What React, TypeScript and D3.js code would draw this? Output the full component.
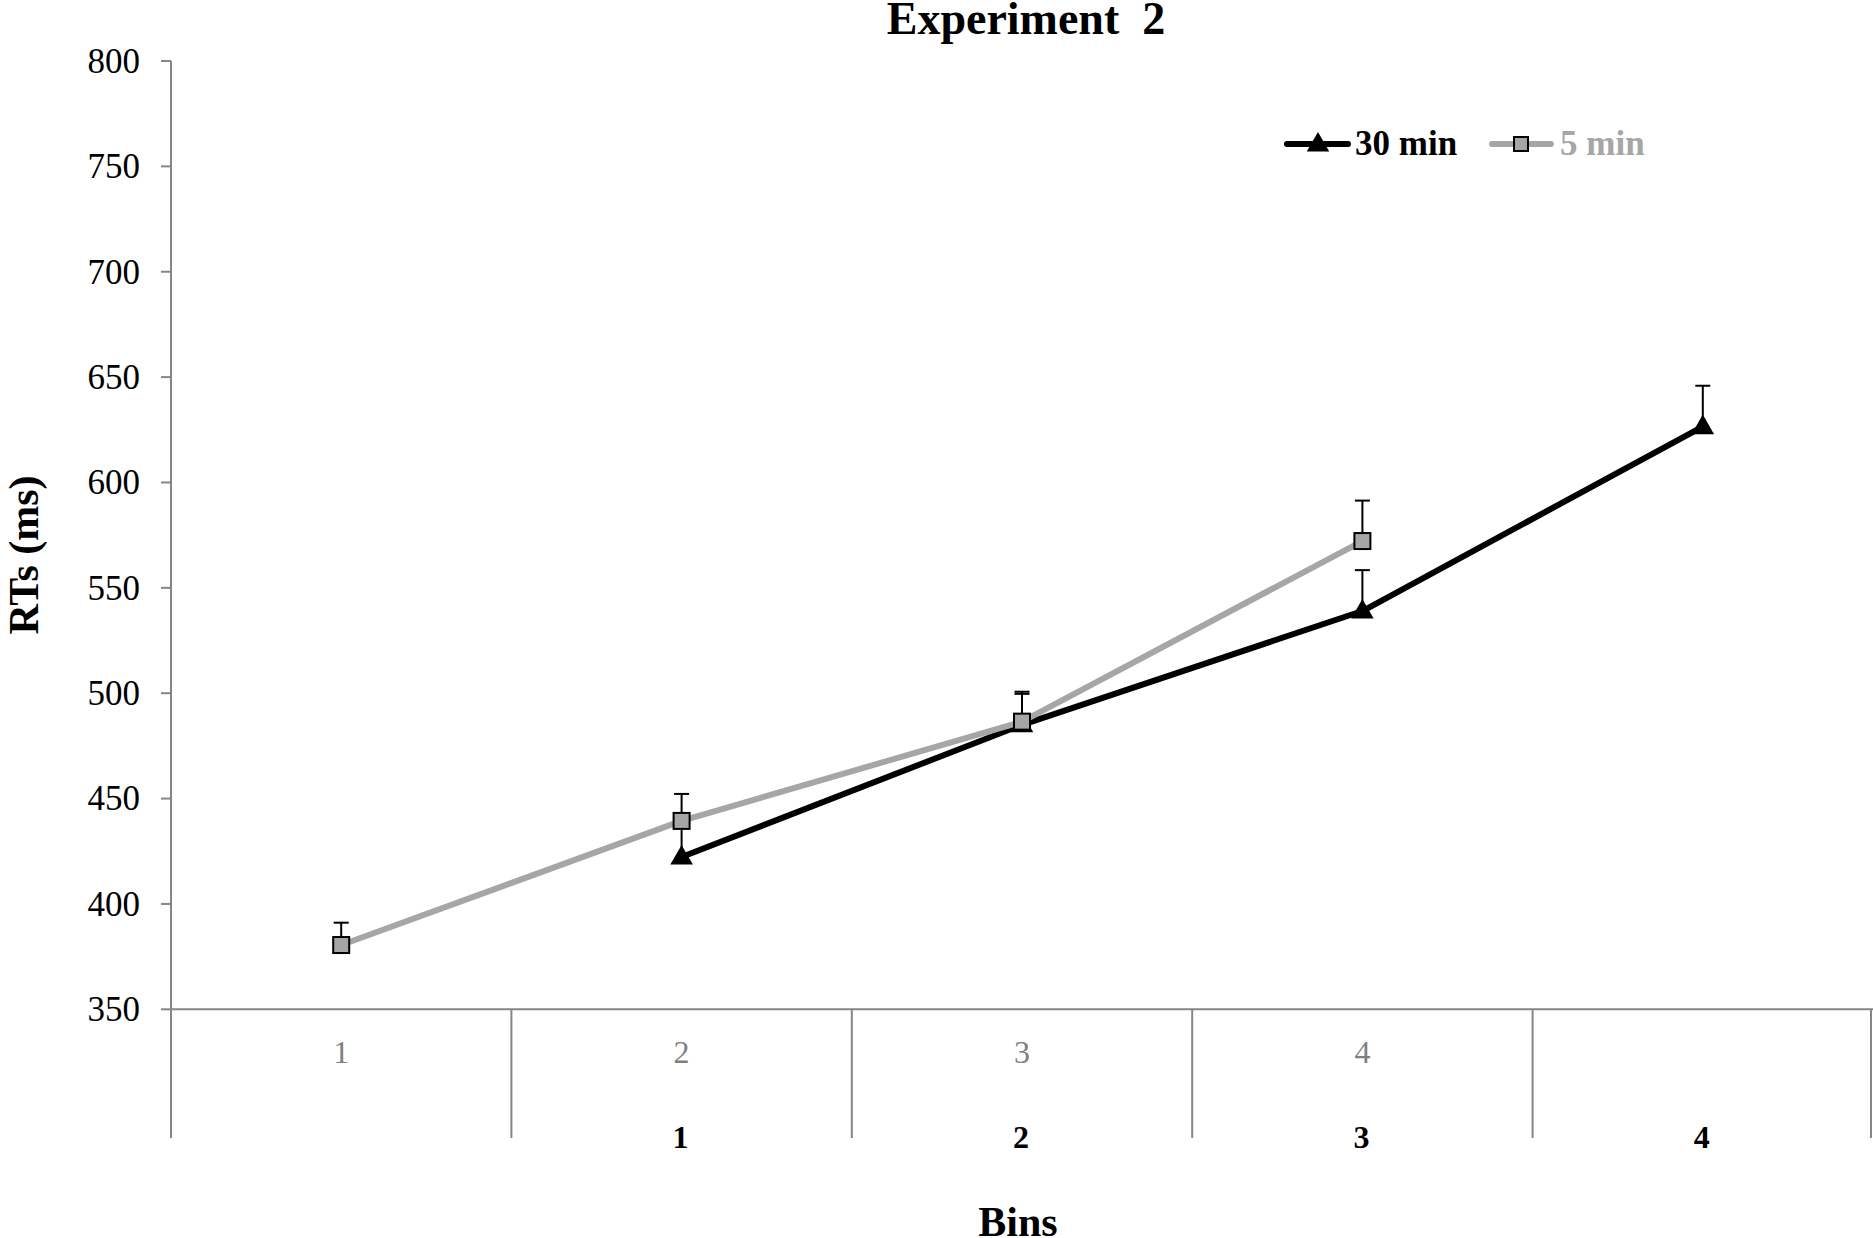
import * as d3 from 'd3';
import { useRef, useEffect } from 'react';

// x categories: two label rows (gray = 5 min bins, black = 30 min bins)
const slots = ['a', 'b', 'c', 'd', 'e'];
const topLabels = ['1', '2', '3', '4', ''];
const bottomLabels = ['', '1', '2', '3', '4'];

const yTicks = [350, 400, 450, 500, 550, 600, 650, 700, 750, 800];

// 30 min series sits on slots b..e
const slots30 = ['b', 'c', 'd', 'e'];
const rt30 = [422.3, 485, 539, 626.5];
const err30 = [14, 14.7, 19.4, 19.4];

// 5 min series sits on slots a..d
const slots5 = ['a', 'b', 'c', 'd'];
const rt5 = [380.5, 439.4, 486.5, 572.2];
const err5 = [10.6, 12.8, 14.2, 19.2];

const W = 1873;
const H = 1238;
const FONT = '"Liberation Serif", "Times New Roman", serif';
const AXIS = '#868686';
const GRAY = '#a6a6a6';

interface Pt {
  slot: string;
  v: number;
  e: number;
}

const Chart = () => {
  const ref = useRef<SVGSVGElement>(null);

  useEffect(() => {
    if (!ref.current) return;
    const svg = d3.select(ref.current);
    svg.selectAll('*').remove();

    const left = 171, right = 1873, top = 61, bottom = 1009.3, floor = 1138;

    const x = d3.scaleBand().domain(slots).range([left, right]).paddingInner(0).paddingOuter(0);
    const y = d3.scaleLinear().domain([350, 800]).range([bottom, top]);
    const cx = (s: string) => x(s)! + x.bandwidth() / 2;

    // title
    svg.append('text')
      .attr('x', 1026).attr('y', 34)
      .attr('text-anchor', 'middle')
      .attr('font-family', FONT).attr('font-weight', 'bold').attr('font-size', 46)
      .attr('xml:space', 'preserve')
      .text('Experiment  2');

    // y axis
    const yAxis = svg.append('g');
    yAxis.append('line')
      .attr('x1', left).attr('x2', left).attr('y1', top).attr('y2', floor)
      .attr('stroke', AXIS).attr('stroke-width', 2);
    yAxis.selectAll('.tick')
      .data(yTicks)
      .enter().append('line')
      .attr('x1', left - 10).attr('x2', left)
      .attr('y1', d => y(d)).attr('y2', d => y(d))
      .attr('stroke', AXIS).attr('stroke-width', 2);
    yAxis.selectAll('text')
      .data(yTicks)
      .enter().append('text')
      .attr('x', 140).attr('y', d => y(d))
      .attr('dy', '0.34em')
      .attr('text-anchor', 'end')
      .attr('font-family', FONT).attr('font-size', 35)
      .attr('fill', '#000')
      .text(d => d);

    svg.append('text')
      .attr('transform', 'translate(38,555) rotate(-90)')
      .attr('text-anchor', 'middle')
      .attr('font-family', FONT).attr('font-weight', 'bold').attr('font-size', 42)
      .text('RTs (ms)');

    // x axis with category dividers
    const xAxis = svg.append('g');
    xAxis.append('line')
      .attr('x1', left).attr('x2', right).attr('y1', bottom).attr('y2', bottom)
      .attr('stroke', AXIS).attr('stroke-width', 2);
    const edges = slots.map(s => x(s)!).slice(1).concat([right - 2]);
    xAxis.selectAll('.div')
      .data(edges)
      .enter().append('line')
      .attr('x1', d => d).attr('x2', d => d)
      .attr('y1', bottom).attr('y2', floor)
      .attr('stroke', AXIS).attr('stroke-width', 2);
    xAxis.selectAll('.top')
      .data(slots)
      .enter().append('text')
      .attr('x', d => cx(d)).attr('y', 1063)
      .attr('text-anchor', 'middle')
      .attr('font-family', FONT).attr('font-size', 32)
      .attr('fill', '#7f7f7f')
      .text((d, i) => topLabels[i]);
    xAxis.selectAll('.bottom')
      .data(slots)
      .enter().append('text')
      .attr('x', d => cx(d) - 1).attr('y', 1148)
      .attr('text-anchor', 'middle')
      .attr('font-family', FONT).attr('font-weight', 'bold').attr('font-size', 32)
      .attr('fill', '#000')
      .text((d, i) => bottomLabels[i]);

    svg.append('text')
      .attr('x', 1018).attr('y', 1236)
      .attr('text-anchor', 'middle')
      .attr('font-family', FONT).attr('font-weight', 'bold').attr('font-size', 42)
      .text('Bins');

    const data30: Pt[] = slots30.map((s, i) => ({ slot: s, v: rt30[i], e: err30[i] }));
    const data5: Pt[] = slots5.map((s, i) => ({ slot: s, v: rt5[i], e: err5[i] }));

    const line = d3.line<Pt>().x(d => cx(d.slot)).y(d => y(d.v));
    const tri = d3.symbol().type(d3.symbolTriangle).size(220);

    const drawSeries = (data: Pt[], color: string, marker: 'tri' | 'sq') => {
      const g = svg.append('g');
      g.append('path')
        .datum(data)
        .attr('d', line)
        .attr('fill', 'none')
        .attr('stroke', color)
        .attr('stroke-width', 6)
        .attr('stroke-linejoin', 'round');
      // upper error bars
      const eb = g.selectAll('.err').data(data).enter().append('g');
      eb.append('line')
        .attr('x1', d => cx(d.slot)).attr('x2', d => cx(d.slot))
        .attr('y1', d => y(d.v)).attr('y2', d => y(d.v + d.e))
        .attr('stroke', '#000').attr('stroke-width', 2);
      eb.append('line')
        .attr('x1', d => cx(d.slot) - 7.5).attr('x2', d => cx(d.slot) + 7.5)
        .attr('y1', d => y(d.v + d.e)).attr('y2', d => y(d.v + d.e))
        .attr('stroke', '#000').attr('stroke-width', 2);
      if (marker === 'tri') {
        g.selectAll('.mk').data(data).enter().append('path')
          .attr('d', tri)
          .attr('transform', d => `translate(${cx(d.slot)},${y(d.v) + 1})`)
          .attr('fill', '#000');
      } else {
        g.selectAll('.mk').data(data).enter().append('rect')
          .attr('x', d => cx(d.slot) - 8).attr('y', d => y(d.v) - 8)
          .attr('width', 16).attr('height', 16)
          .attr('fill', GRAY).attr('stroke', '#000').attr('stroke-width', 2);
      }
    };

    drawSeries(data30, '#000', 'tri');
    drawSeries(data5, GRAY, 'sq');

    // legend
    const lg = svg.append('g');
    lg.append('line')
      .attr('x1', 1287).attr('x2', 1348).attr('y1', 144).attr('y2', 144)
      .attr('stroke', '#000').attr('stroke-width', 6).attr('stroke-linecap', 'round');
    lg.append('path')
      .attr('d', tri)
      .attr('transform', 'translate(1318,145)')
      .attr('fill', '#000');
    lg.append('text')
      .attr('x', 1355).attr('y', 155)
      .attr('font-family', FONT).attr('font-weight', 'bold').attr('font-size', 35)
      .attr('fill', '#000')
      .text('30 min');
    lg.append('line')
      .attr('x1', 1492).attr('x2', 1551).attr('y1', 144).attr('y2', 144)
      .attr('stroke', GRAY).attr('stroke-width', 6).attr('stroke-linecap', 'round');
    lg.append('rect')
      .attr('x', 1514).attr('y', 137).attr('width', 14).attr('height', 14)
      .attr('fill', GRAY).attr('stroke', '#000').attr('stroke-width', 2);
    lg.append('text')
      .attr('x', 1560).attr('y', 155)
      .attr('font-family', FONT).attr('font-weight', 'bold').attr('font-size', 35)
      .attr('fill', GRAY)
      .text('5 min');
  }, []);

  return <svg ref={ref} width={W} height={H} style={{ display: 'block' }} />;
};

export default function App() {
  return (
    <div style={{ position: 'absolute', left: 0, top: 0, background: '#fff' }}>
      <Chart />
    </div>
  );
}
